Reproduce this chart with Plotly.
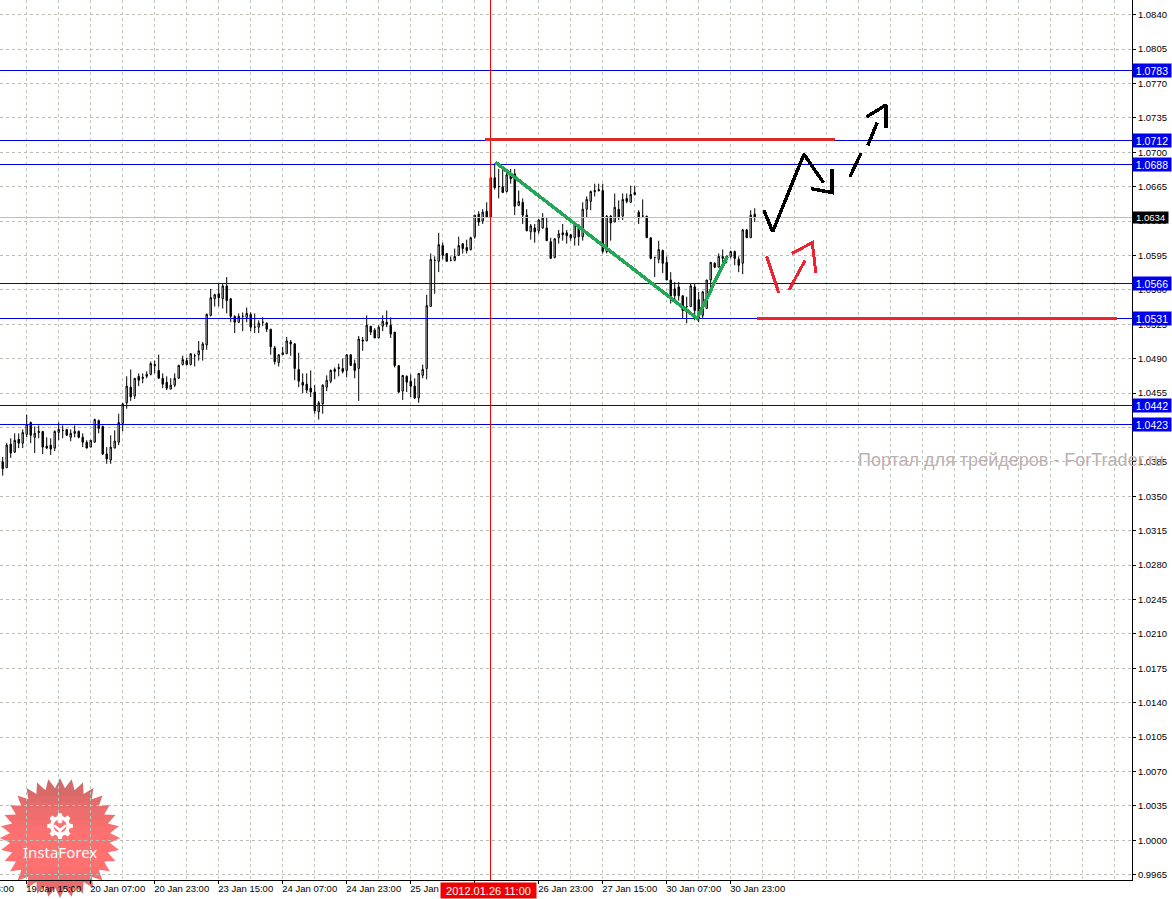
import numpy as np
import plotly.graph_objects as go

# ---- chart data (bar number, prices) ----
open_p = [1.0385,1.0379,1.0403,1.0395,1.0408,1.0404,1.0413,1.0425,1.0410,1.0416,
1.0416,1.0401,1.0402,1.0399,1.0415,1.0417,1.0418,1.0410,1.0414,1.0416,
1.0410,1.0405,1.0400,1.0405,1.0427,1.0421,1.0393,1.0387,1.0399,1.0405,
1.0424,1.0445,1.0461,1.0452,1.0472,1.0471,1.0472,1.0474,1.0484,1.0478,
1.0470,1.0466,1.0459,1.0463,1.0470,1.0484,1.0488,1.0484,1.0493,1.0494,
1.0499,1.0504,1.0534,1.0551,1.0556,1.0551,1.0564,1.0551,1.0533,1.0527,
1.0533,1.0532,1.0535,1.0522,1.0522,1.0527,1.0526,1.0520,1.0501,1.0486,
1.0494,1.0495,1.0507,1.0505,1.0479,1.0466,1.0464,1.0460,1.0456,1.0436,
1.0444,1.0461,1.0467,1.0477,1.0481,1.0480,1.0478,1.0494,1.0485,1.0480,
1.0509,1.0508,1.0523,1.0519,1.0511,1.0523,1.0527,1.0524,1.0517,1.0483,
1.0457,1.0472,1.0467,1.0462,1.0450,1.0473,1.0480,1.0543,1.0590,1.0589,
1.0605,1.0597,1.0590,1.0590,1.0595,1.0607,1.0603,1.0601,1.0614,1.0637,
1.0630,1.0640,1.0674,1.0674,1.0665,1.0665,1.0660,1.0677,1.0678,1.0646,
1.0649,1.0636,1.0619,1.0623,1.0620,1.0623,1.0623,1.0609,1.0593,1.0613,
1.0618,1.0618,1.0616,1.0613,1.0626,1.0614,1.0642,1.0650,1.0661,1.0662,
1.0661,1.0599,1.0635,1.0629,1.0642,1.0635,1.0653,1.0649,1.0659,1.0639,
1.0635,1.0635,1.0613,1.0593,1.0591,1.0600,1.0588,1.0570,1.0561,1.0563,
1.0554,1.0543,1.0543,1.0563,1.0550,1.0534,1.0541,1.0570,1.0587,1.0583,
1.0592,1.0594,1.0594,1.0599,1.0591,1.0587,1.0621,1.0613,1.0637]
high_p = [1.0390,1.0404,1.0409,1.0414,1.0414,1.0418,1.0433,1.0426,1.0421,1.0422,
1.0416,1.0410,1.0409,1.0417,1.0425,1.0422,1.0418,1.0418,1.0422,1.0417,
1.0414,1.0407,1.0407,1.0429,1.0428,1.0422,1.0400,1.0412,1.0417,1.0434,
1.0445,1.0472,1.0479,1.0470,1.0475,1.0475,1.0477,1.0487,1.0488,1.0494,
1.0475,1.0472,1.0470,1.0475,1.0484,1.0493,1.0491,1.0495,1.0495,1.0508,
1.0507,1.0536,1.0561,1.0556,1.0566,1.0566,1.0573,1.0551,1.0534,1.0536,
1.0537,1.0542,1.0537,1.0536,1.0529,1.0532,1.0527,1.0520,1.0503,1.0494,
1.0502,1.0512,1.0509,1.0506,1.0496,1.0475,1.0475,1.0478,1.0463,1.0447,
1.0464,1.0473,1.0479,1.0481,1.0485,1.0490,1.0494,1.0494,1.0489,1.0513,
1.0512,1.0534,1.0523,1.0521,1.0524,1.0534,1.0539,1.0532,1.0517,1.0483,
1.0473,1.0473,1.0474,1.0470,1.0475,1.0484,1.0555,1.0597,1.0594,1.0618,
1.0608,1.0597,1.0594,1.0602,1.0614,1.0607,1.0611,1.0614,1.0636,1.0640,
1.0642,1.0649,1.0675,1.0688,1.0683,1.0682,1.0680,1.0683,1.0683,1.0661,
1.0653,1.0642,1.0627,1.0627,1.0632,1.0638,1.0634,1.0613,1.0612,1.0621,
1.0627,1.0621,1.0617,1.0629,1.0627,1.0649,1.0655,1.0661,1.0668,1.0668,
1.0668,1.0636,1.0636,1.0658,1.0651,1.0658,1.0658,1.0666,1.0666,1.0641,
1.0652,1.0635,1.0613,1.0593,1.0610,1.0601,1.0594,1.0578,1.0568,1.0568,
1.0554,1.0553,1.0566,1.0566,1.0558,1.0559,1.0570,1.0588,1.0588,1.0597,
1.0601,1.0595,1.0600,1.0600,1.0594,1.0622,1.0622,1.0641,1.0643]
low_p = [1.0371,1.0379,1.0389,1.0394,1.0399,1.0399,1.0410,1.0404,1.0394,1.0409,
1.0393,1.0398,1.0392,1.0396,1.0407,1.0409,1.0412,1.0406,1.0410,1.0409,
1.0400,1.0399,1.0400,1.0405,1.0414,1.0392,1.0383,1.0383,1.0399,1.0402,
1.0416,1.0439,1.0447,1.0449,1.0462,1.0465,1.0470,1.0473,1.0475,1.0470,
1.0460,1.0458,1.0459,1.0461,1.0470,1.0483,1.0483,1.0483,1.0482,1.0488,
1.0488,1.0499,1.0533,1.0543,1.0543,1.0541,1.0536,1.0527,1.0516,1.0526,
1.0518,1.0527,1.0518,1.0516,1.0516,1.0523,1.0517,1.0494,1.0484,1.0482,
1.0494,1.0495,1.0493,1.0468,1.0461,1.0455,1.0455,1.0451,1.0434,1.0428,
1.0434,1.0457,1.0465,1.0469,1.0472,1.0475,1.0471,1.0483,1.0470,1.0447,
1.0498,1.0508,1.0514,1.0511,1.0511,1.0518,1.0522,1.0511,1.0481,1.0455,
1.0448,1.0456,1.0451,1.0449,1.0445,1.0470,1.0469,1.0543,1.0556,1.0578,
1.0591,1.0589,1.0589,1.0589,1.0595,1.0597,1.0597,1.0600,1.0612,1.0625,
1.0627,1.0634,1.0634,1.0662,1.0653,1.0659,1.0659,1.0668,1.0636,1.0645,
1.0627,1.0620,1.0611,1.0608,1.0617,1.0622,1.0610,1.0592,1.0592,1.0607,
1.0610,1.0607,1.0610,1.0605,1.0605,1.0610,1.0633,1.0641,1.0655,1.0660,
1.0597,1.0597,1.0610,1.0629,1.0631,1.0631,1.0648,1.0649,1.0656,1.0627,
1.0634,1.0613,1.0591,1.0573,1.0587,1.0577,1.0570,1.0546,1.0549,1.0549,
1.0531,1.0526,1.0543,1.0529,1.0527,1.0531,1.0541,1.0560,1.0582,1.0583,
1.0587,1.0587,1.0592,1.0585,1.0578,1.0576,1.0613,1.0613,1.0629]
close_p = [1.0378,1.0402,1.0394,1.0407,1.0404,1.0415,1.0423,1.0412,1.0414,1.0415,
1.0400,1.0399,1.0398,1.0416,1.0418,1.0417,1.0412,1.0414,1.0416,1.0410,
1.0405,1.0399,1.0407,1.0428,1.0419,1.0393,1.0388,1.0400,1.0406,1.0425,
1.0444,1.0462,1.0451,1.0470,1.0468,1.0470,1.0474,1.0485,1.0483,1.0470,
1.0464,1.0460,1.0463,1.0470,1.0483,1.0489,1.0484,1.0495,1.0493,1.0498,
1.0505,1.0535,1.0552,1.0555,1.0552,1.0564,1.0549,1.0533,1.0527,1.0533,
1.0533,1.0536,1.0522,1.0522,1.0526,1.0527,1.0520,1.0502,1.0487,1.0494,
1.0496,1.0508,1.0505,1.0480,1.0467,1.0463,1.0458,1.0456,1.0437,1.0445,
1.0463,1.0468,1.0478,1.0479,1.0480,1.0477,1.0494,1.0483,1.0478,1.0510,
1.0508,1.0524,1.0517,1.0511,1.0522,1.0528,1.0525,1.0515,1.0483,1.0456,
1.0473,1.0466,1.0462,1.0450,1.0475,1.0479,1.0544,1.0591,1.0590,1.0606,
1.0595,1.0589,1.0590,1.0594,1.0605,1.0602,1.0600,1.0613,1.0636,1.0629,
1.0639,1.0634,1.0634,1.0664,1.0665,1.0659,1.0677,1.0673,1.0645,1.0650,
1.0636,1.0620,1.0625,1.0619,1.0631,1.0633,1.0610,1.0592,1.0612,1.0617,
1.0616,1.0615,1.0613,1.0627,1.0614,1.0642,1.0652,1.0660,1.0660,1.0661,
1.0599,1.0635,1.0628,1.0644,1.0634,1.0652,1.0650,1.0657,1.0657,1.0633,
1.0635,1.0613,1.0592,1.0593,1.0601,1.0587,1.0570,1.0553,1.0554,1.0554,
1.0539,1.0543,1.0564,1.0539,1.0531,1.0558,1.0570,1.0588,1.0583,1.0594,
1.0594,1.0593,1.0599,1.0592,1.0585,1.0621,1.0613,1.0636,1.0634]

price_ticks = [1.0840,1.0805,1.0770,1.0735,1.0700,1.0665,1.0630,1.0595,1.0560,1.0525,
               1.0490,1.0455,1.0420,1.0385,1.0350,1.0315,1.0280,1.0245,1.0210,1.0175,
               1.0140,1.0105,1.0070,1.0035,1.0000,0.9965]
time_tick_bars = [6,22,38,54,70,86,102,118,134,150,166,182]
time_tick_labels = ["19 Jan 15:00","20 Jan 07:00","20 Jan 23:00","23 Jan 15:00","24 Jan 07:00",
                    "24 Jan 23:00","25 Jan 15:00","26 Jan 07:00","26 Jan 23:00","27 Jan 15:00",
                    "30 Jan 07:00","30 Jan 23:00"]
blue_levels = [1.0783,1.0712,1.0688,1.0566,1.0531,1.0442,1.0423]
current_price = 1.0634
cursor_bar = 122
cursor_label = "2012.01.26 11:00"

green_x = [123.1,173.6,181.1]
green_y = [1.0690,1.0531,1.0594]
resistance_x = [120.6,208.1]; resistance_y = [1.07125,1.07125]
support_x = [188.6,278.6];    support_y = [1.0531,1.0531]
black_strokes = [
    ([190.3,192.5,200.3,205.2],[1.0641,1.0619,1.0698,1.0669]),
    ([202.0,207.3,207.3],[1.0663,1.0659,1.0683]),
    ([211.8,214.6],[1.0675,1.0699]),
    ([216.3,218.6],[1.0707,1.0730]),
    ([216.0,220.8,220.8],[1.0736,1.0748,1.0725]),
]
red_strokes = [
    ([191.0,194.0],[1.0594,1.0557]),
    ([196.6,200.6],[1.0560,1.0590]),
    ([197.3,202.4,203.3],[1.0597,1.0608,1.0577]),
]

# ---- canvas ----
W, H = 1172, 899
PW, PH = 1132, 880
to_px = 4.0          # px per bar
Y0 = 14.6            # pixel row of 1.0840
x_range = [-2.7/to_px, (PW-2.7)/to_px]
y_range = [1.0840-(PH-Y0)/9830, 1.0840+Y0/9830]
bars = list(range(len(open_p)))
fx = lambda px: px/PW
fy = lambda py: 1-py/PH

fig = go.Figure()
fig.add_trace(go.Candlestick(
    x=bars, open=open_p, high=high_p, low=low_p, close=close_p, whiskerwidth=0,
    increasing=dict(line=dict(color="black", width=1), fillcolor="white"),
    decreasing=dict(line=dict(color="black", width=1), fillcolor="black"),
    hoverinfo="skip", showlegend=False))

def stroke(xs, ys, color, width):
    fig.add_trace(go.Scatter(x=xs, y=ys, mode="lines", hoverinfo="skip", showlegend=False,
                             line=dict(color=color, width=width)))

# level lines (drawn over the candles, under the hand-drawn marks)
stroke(x_range, [current_price, current_price], "#c4bcc4", 1)
for lv in blue_levels:
    stroke(x_range, [lv, lv], "#0000dc", 1)
stroke([cursor_bar, cursor_bar], y_range, "#ff0000", 1)

stroke(resistance_x, resistance_y, "#dc2a2a", 3)
stroke(support_x, support_y, "#ee2233", 3)
stroke(green_x, green_y, "#22a854", 3.5)
for xs, ys in black_strokes:
    stroke(xs, ys, "#000000", 3.4)
for xs, ys in red_strokes:
    stroke(xs, ys, "#ee2233", 3)

# ---- logo ----
N = 32
ang = np.arange(2*N)*np.pi/N - np.pi/2
rad = np.where(np.arange(2*N) % 2 == 0, 60.0, 50.0)
star = np.column_stack([60+rad*np.cos(ang), 838+rad*np.sin(ang)])

def clip(poly, y0, y1):
    def half(p, keep, cross):
        out = []
        for a, b in zip(p, np.roll(p, -1, axis=0)):
            if keep(a): out.append(a)
            if keep(a) != keep(b):
                t = (cross-a[1])/(b[1]-a[1])
                out.append(a+t*(b-a))
        return np.array(out)
    q = half(poly, lambda v: v[1] >= y0, y0)
    return half(q, lambda v: v[1] <= y1, y1) if len(q) else q

def path(poly):
    return "M"+" L".join(f"{fx(px):.5f},{fy(py):.5f}" for px, py in poly)+" Z"

stops_y = [778, 810, 835, 870, 898]
stops_c = [(200,106,104),(236,110,110),(255,112,112),(255,112,112),(210,105,105)]
edges = np.arange(778, 899, 6)
for e in edges:
    yc = e+3
    col = [int(np.interp(yc, stops_y, [c[k] for c in stops_c])) for k in range(3)]
    cp = clip(star, e, e+6.4)
    if len(cp) > 2:
        fig.add_shape(type="path", xref="paper", yref="paper", path=path(cp), layer="below",
                      fillcolor=f"rgb({col[0]},{col[1]},{col[2]})", line=dict(width=0))

T = 8
gear = []
for k in range(T):
    a = 2*np.pi*k/T
    for da, r in [(-0.26,10),(-0.14,13),(0.14,13),(0.26,10)]:
        gear.append((60+r*np.sin(a+da), 826-r*np.cos(a+da)))
fig.add_shape(type="path", xref="paper", yref="paper", path=path(gear), fillcolor="white",
              line=dict(width=0), layer="above")
hole = [(60+6.5*np.cos(t), 826+6.5*np.sin(t)) for t in np.linspace(0, 2*np.pi, 30)[:-1]]
fig.add_shape(type="path", xref="paper", yref="paper", path=path(hole), fillcolor="#fb7070",
              line=dict(width=0), layer="above")
dot = [(60+2.4*np.cos(t), 821+2.4*np.sin(t)) for t in np.linspace(0, 2*np.pi, 16)[:-1]]
fig.add_shape(type="path", xref="paper", yref="paper", path=path(dot), fillcolor="#ffffff",
              line=dict(width=0), layer="above")
ypath = [(58.6,839),(61.4,839),(61.4,831),(67,826),(65,824.5),(60,828.5),(55,824.5),(53,826),(58.6,831)]
fig.add_shape(type="path", xref="paper", yref="paper", path=path(ypath), fillcolor="white",
              line=dict(width=0), layer="above")

# ---- annotations ----
fig.add_annotation(xref="paper", yref="paper", x=fx(60), y=fy(852), text="InstaForex", showarrow=False,
                   xanchor="center", yanchor="middle",
                   font=dict(family="Noto Sans", size=15, color="white"))
fig.add_annotation(xref="paper", yref="paper", x=fx(856), y=fy(460), xanchor="left", yanchor="middle",
                   text="Портал для трейдеров - ForTrader.ru", showarrow=False,
                   font=dict(family="Liberation Sans", size=18, color="#bcb0b0"))
AX = "Liberation Sans"
fig.add_annotation(xref="paper", yref="paper", x=fx(-43), y=fy(888.5), xanchor="left", yanchor="middle",
                   text="18 Jan 23:00", showarrow=False, font=dict(family=AX, size=9.5, color="black"))
for lv in blue_levels:
    fig.add_annotation(xref="paper", yref="y", x=fx(1152), y=lv, text=f"{lv:.4f}", showarrow=False,
                       xanchor="center", yanchor="middle",
                       width=38, height=13, bgcolor="#0000f0", borderpad=0,
                       font=dict(family=AX, size=10.5, color="white"))
fig.add_annotation(xref="paper", yref="y", x=fx(1150.5), y=current_price, text=f"{current_price:.4f}",
                   xanchor="center", yanchor="middle",
                   showarrow=False, width=35, height=11, bgcolor="#000000", borderpad=0,
                   font=dict(family=AX, size=9.5, color="white"))
fig.add_annotation(xref="paper", yref="paper", x=fx(488.5), y=fy(890.5), text=cursor_label, showarrow=False,
                   xanchor="center", yanchor="middle",
                   width=95, height=15, bgcolor="#f00000", borderpad=0,
                   font=dict(family=AX, size=11, color="white"))

GX, GY = "#b8c8b8", "#bcbcb4"
grid_bars = list(range(-2, 283, 8))
fig.update_layout(
    width=W, height=H, margin=dict(l=0, r=W-PW, t=0, b=H-PH), showlegend=False,
    paper_bgcolor="white", plot_bgcolor="rgba(0,0,0,0)", boxgap=0.5,
    xaxis=dict(range=x_range, rangeslider=dict(visible=False), tickmode="array",
               tickvals=time_tick_bars, ticktext=time_tick_labels, ticks="outside", ticklen=3,
               tickcolor="black", ticklabelshift=27, ticklabelstandoff=-3, showgrid=False,
               tickfont=dict(family=AX, size=9.5, color="black"), tickangle=0,
               minor=dict(tickmode="array", tickvals=grid_bars, showgrid=True, gridcolor=GX,
                          griddash="3px,3px", gridwidth=1, ticks=""),
               showline=True, linecolor="black", linewidth=1, zeroline=False),
    yaxis=dict(range=y_range, side="right", tickmode="array", tickvals=price_ticks,
               ticktext=[f"{v:.4f}" for v in price_ticks], ticks="outside", ticklen=3,
               tickcolor="black", tickfont=dict(family=AX, size=9.5, color="black"),
               showgrid=True, gridcolor=GY, griddash="3px,3px", gridwidth=1,
               showline=True, linecolor="black", linewidth=1, zeroline=False),
)

post = """
document.body.style.margin='0';
var st=document.createElement('style');
st.textContent='.scatterlayer .js-line{shape-rendering:crispEdges}';
document.head.appendChild(st);
"""
fig.write_html("out.html", post_script=post, config=dict(displayModeBar=False))
